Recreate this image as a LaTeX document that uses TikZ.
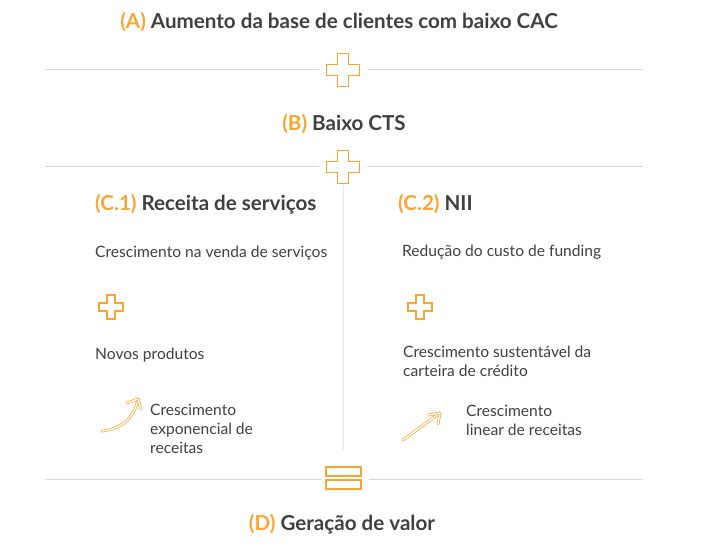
\documentclass[tikz,border=0pt]{standalone}
\usepackage{fontspec}
\setmainfont{Lato}
\definecolor{org}{HTML}{F8A532}
\definecolor{txt}{HTML}{404040}
\definecolor{rule}{HTML}{D6D6D6}
\tikzset{
  head/.style={font=\fontsize{20.6}{24}\selectfont\bfseries,text=txt,inner sep=0},
  body/.style={font=\fontsize{15.6}{19}\selectfont,text=txt,inner sep=0,align=left},
  sep/.style={draw=rule,line width=1},
  icon/.style={draw=org,line width=1.3,line join=miter},
  arr/.style={draw=org,double=white,double distance=1.4,line width=0.7,line cap=round,line join=round},
  crossicon/.pic={
    \path[icon] (-5.5,-16.5) -- (5.5,-16.5) -- (5.5,-5.5) -- (16.5,-5.5) -- (16.5,5.5) -- (5.5,5.5)
      -- (5.5,16.5) -- (-5.5,16.5) -- (-5.5,5.5) -- (-16.5,5.5) -- (-16.5,-5.5) -- (-5.5,-5.5) -- cycle;
  }
}
\newcommand\tg[1]{{\color{org}#1}}
\begin{document}
\begin{tikzpicture}[x=1pt,y=-1pt]
\useasboundingbox (0,0) rectangle (709,553);
\fill[white] (0,0) rectangle (709,553);
\foreach \y in {70,167}{
  \draw[sep] (45,\y) -- (319,\y) (367,\y) -- (643,\y);
  \pic at (343,\y) {crossicon};
}
\draw[sep] (45,479) -- (322,479) (369,479) -- (643,479);
\draw[icon] (326,467) rectangle (361,476) (326,480) rectangle (361,489);
\draw[draw=rule!60,line width=0.8] (343,185) -- (343,450);
\pic[scale=0.72] at (111,307) {crossicon};
\pic[scale=0.72] at (420,307) {crossicon};

\node[head,anchor=base] (capa) at (339,29) {\tg{(A)} Aumento da base de clientes com baixo CAC};
\node[head,anchor=base] (cts) at (344,131) {\tg{(B)} Baixo CTS};
\node[head,anchor=base west] (rec) at (95,211) {\tg{(C.1)} Receita de serviços};
\node[head,anchor=base west] (nii) at (398,211) {\tg{(C.2)} NII};
\node[head,anchor=base] (valor) at (342,530) {\tg{(D)} Geração de valor};

\node[body,anchor=base west] (venda) at (95,258) {Crescimento na venda de serviços};
\node[body,anchor=base west] (novos) at (95,359) {Novos produtos};
\node[body,anchor=base west] (expo) at (150,453) {Crescimento\\exponencial de\\receitas};
\node[body,anchor=base west] (fund) at (402,257) {Redução do custo de funding};
\node[body,anchor=base west] (cart) at (403,376) {Crescimento sustentável da\\carteira de crédito};
\node[body,anchor=base west] (lin) at (466,435) {Crescimento\\linear de receitas};

\path[arr] (102,431) .. controls (124,429) and (135,415) .. (138,399);
\path[arr] (127,403) -- (138,399) -- (141,409);
\path[arr] (403,440) -- (440,413);
\path[arr] (429,415) -- (440,413) -- (438,424);
\end{tikzpicture}
\end{document}
